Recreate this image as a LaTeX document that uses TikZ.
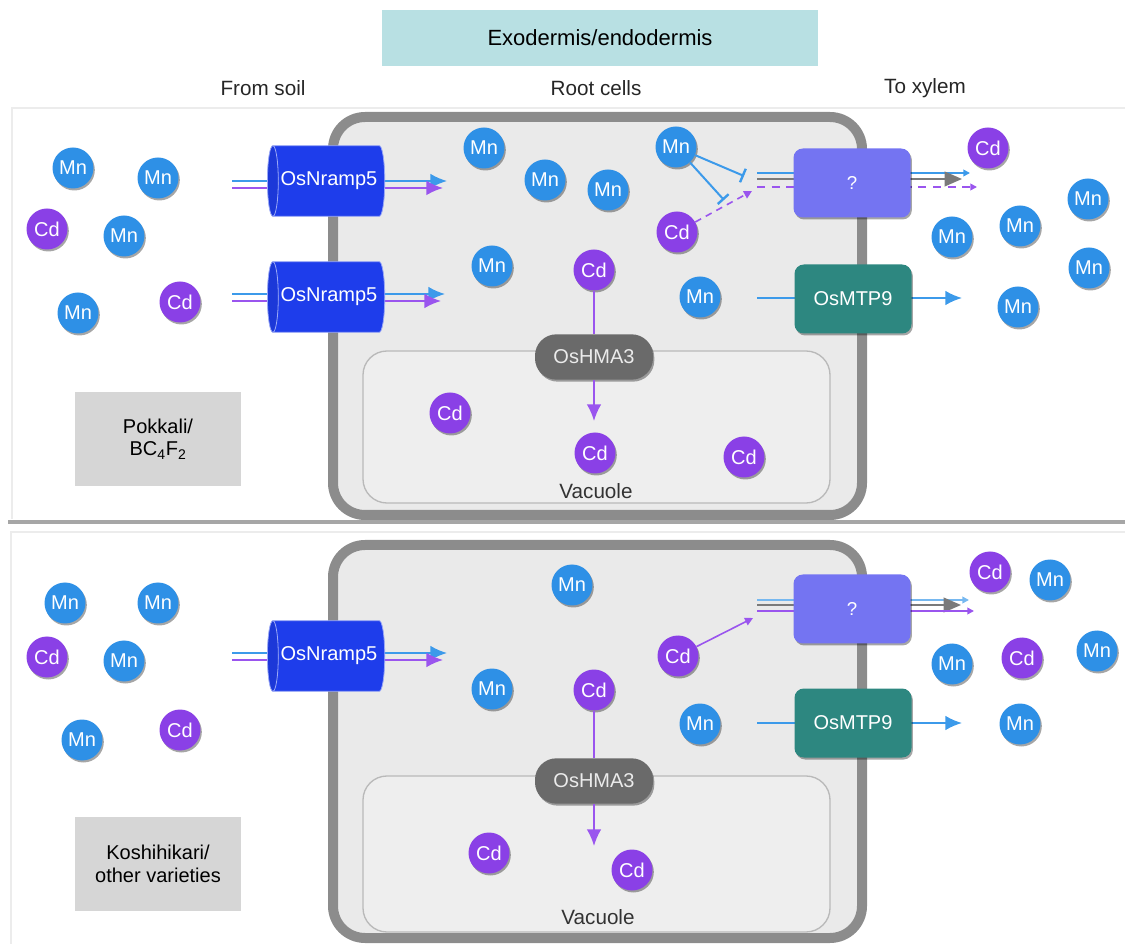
\documentclass[tikz,border=0pt]{standalone}
\usepackage{fontspec}
\setmainfont{Liberation Sans}
\usetikzlibrary{shapes.geometric,arrows.meta,shadows,positioning}

\definecolor{mnblue}{HTML}{2E90E6}
\definecolor{cdpurple}{HTML}{8A40E6}
\definecolor{nrampblue}{HTML}{1E3DEB}
\definecolor{qboxfill}{HTML}{7474F2}
\definecolor{mtpteal}{HTML}{2D8780}
\definecolor{hmagray}{HTML}{6A6A6A}
\definecolor{titlefill}{HTML}{B8E0E3}
\definecolor{labelfill}{HTML}{D6D6D6}
\definecolor{cellfill}{HTML}{EAEAEA}
\definecolor{wallgray}{HTML}{8C8C8C}
\definecolor{vacfill}{HTML}{EEEEEE}
\definecolor{mnline}{HTML}{3C9AEA}
\definecolor{cdline}{HTML}{9A55EE}
\definecolor{arrowgray}{HTML}{7A7A7A}

\tikzset{
  softshadow/.style={drop shadow={shadow xshift=1pt,shadow yshift=-1.5pt,opacity=0.35,fill=black}},
  ball/.style={circle,minimum size=30.75pt,inner sep=0pt,text=white,
    font=\fontsize{15}{15}\selectfont,softshadow},
  mnball/.style={ball,fill=mnblue},
  cdball/.style={ball,fill=cdpurple},
  channel/.style={cylinder,shape border rotate=180,aspect=0.6,
    minimum height=88pt,minimum width=53pt,inner sep=0pt,
    cylinder uses custom fill,cylinder body fill=nrampblue,
    cylinder end fill=nrampblue!92!black,draw=nrampblue!45!white,line width=0.6pt,
    text=white,font=\fontsize{15}{15}\selectfont},
  qbox/.style={rectangle,rounded corners=7pt,fill=qboxfill,minimum width=87.75pt,
    minimum height=51.75pt,text=white,font=\fontsize{14}{14}\selectfont,softshadow},
  mtpbox/.style={qbox,fill=mtpteal,font=\fontsize{15}{15}\selectfont},
  hmabox/.style={rectangle,rounded corners=16pt,fill=hmagray,minimum width=88.5pt,
    minimum height=34pt,text=white!92!black,font=\fontsize{15}{15}\selectfont,softshadow},
  varbox/.style={rectangle,fill=labelfill,minimum width=125pt,minimum height=71pt,
    align=center,font=\fontsize{15}{17}\selectfont},
  titlebar/.style={rectangle,fill=titlefill,minimum width=327pt,minimum height=42pt,
    font=\fontsize{16.5}{16.5}\selectfont},
  headlbl/.style={font=\fontsize{15.5}{15.5}\selectfont,text=black!85},
  vaclbl/.style={font=\fontsize{15.5}{15.5}\selectfont,text=black!80},
  cellwall/.style={draw=wallgray,line width=7.5pt,fill=cellfill,rounded corners=24pt,
    drop shadow={shadow xshift=2pt,shadow yshift=-2.5pt,opacity=0.5,fill=black}},
  vacuole/.style={draw=gray!55,line width=1pt,fill=vacfill,rounded corners=18pt},
  mnflow/.style={draw=mnline,line width=1.4pt},
  cdflow/.style={draw=cdline,line width=1.4pt},
  grayflow/.style={draw=arrowgray,line width=1.4pt},
  bighead/.style={-{Latex[length=12.5pt,width=11pt]}},
  smallhead/.style={-{Triangle[length=5pt,width=5pt]}},
  inhib/.style={draw=mnline,line width=1.5pt,-{Bar[width=11pt,line width=1.8pt]}}
}

\begin{document}
\begin{tikzpicture}[x=0.75pt,y=0.75pt,yscale=-1,xscale=1]
\useasboundingbox (0,0) rectangle (1125,944);

% panel frames
\draw[gray!15,line width=1pt] (1125,108) -- (12,108) -- (12,519);
\draw[gray!70,line width=2.5pt] (8,522) -- (1125,522);
\draw[gray!15,line width=1pt] (1125,532) -- (11,532) -- (11,944);

% header
\node[titlebar] (title) at (600,38) {Exodermis/endodermis};
\node[headlbl] (fromsoil) at (263,88) {From soil};
\node[headlbl] (rootcells) at (596,88) {Root cells};
\node[headlbl] (toxylem) at (925,88) {To xylem};

%%%%%%%%%%%%%%%% top panel
% cell and vacuole
\draw[cellwall] (333,117) rectangle (862,515);
\draw[vacuole] (363,351) rectangle (830,503);

% flows through OsNramp5 (drawn under the channels)
\coordinate (aIn1b) at (232,181);  \coordinate (aTip1b) at (447,181);
\coordinate (aIn1p) at (232,188);  \coordinate (aTip1p) at (443,188);
\coordinate (aIn2b) at (232,294);  \coordinate (aTip2b) at (445,294);
\coordinate (aIn2p) at (232,301);  \coordinate (aTip2p) at (441,301);
\draw[mnflow,bighead] (aIn1b) -- (aTip1b);
\draw[cdflow,bighead] (aIn1p) -- (aTip1p);
\draw[mnflow,bighead] (aIn2b) -- (aTip2b);
\draw[cdflow,bighead] (aIn2p) -- (aTip2p);
\node[channel] (aNramp1) at (329,181) {OsNramp5};
\node[channel] (aNramp2) at (329,297) {OsNramp5};

% flows through the unknown exporter
\coordinate (aQinB) at (757,173);  \coordinate (aQoutB) at (970,173);
\coordinate (aQinG) at (757,179);  \coordinate (aQoutG) at (962,179);
\coordinate (aQinP) at (757,187);  \coordinate (aQoutP) at (977,187);
\draw[mnflow,smallhead] (aQinB) -- (aQoutB);
\draw[grayflow,-{Triangle[length=13pt,width=11pt]}] (aQinG) -- (aQoutG);
\draw[cdflow,dashed,dash pattern=on 6pt off 5pt,smallhead] (aQinP) -- (aQoutP);
\node[qbox] (aQ) at (852,183) {?};

% OsMTP9
\coordinate (aMTPin) at (757,298);
\coordinate (aMTPtip) at (962,298);
\draw[mnflow,bighead] (aMTPin) -- (aMTPtip);
\node[mtpbox] (aMTP) at (853,299) {OsMTP9};

% OsHMA3
\node[hmabox] (aHMA) at (594,357) {OsHMA3};
\coordinate (aHMAtip) at (594,421);

% soil side
\node[mnball] (aS1) at (73,168) {Mn};
\node[mnball] (aS2) at (158,178) {Mn};
\node[cdball] (aS3) at (47,229) {Cd};
\node[mnball] (aS4) at (124,236) {Mn};
\node[mnball] (aS5) at (78,313) {Mn};
\node[cdball] (aS6) at (180,302) {Cd};
% inside the cell
\node[mnball] (aC1) at (484,148) {Mn};
\node[mnball] (aC2) at (545,180) {Mn};
\node[mnball] (aC3) at (608,190) {Mn};
\node[mnball] (aC4) at (676,147) {Mn};
\node[cdball] (aC5) at (677,232) {Cd};
\node[mnball] (aC6) at (492,266) {Mn};
\node[cdball] (aC7) at (594,270) {Cd};
\node[mnball] (aC8) at (700,297) {Mn};
% xylem side
\node[cdball] (aX1) at (988,148) {Cd};
\node[mnball] (aX2) at (1088,199) {Mn};
\node[mnball] (aX3) at (1020,226) {Mn};
\node[mnball] (aX4) at (952,237) {Mn};
\node[mnball] (aX5) at (1089,268) {Mn};
\node[mnball] (aX6) at (1018,307) {Mn};
% vacuole
\node[cdball] (aV1) at (450,413) {Cd};
\node[cdball] (aV2) at (595,453) {Cd};
\node[cdball] (aV3) at (744,457) {Cd};
\node[vaclbl] (aVac) at (596,491) {Vacuole};

% Mn blocks the Cd route
\coordinate (aBar1) at (744,176);
\coordinate (aBar2) at (724,200);
\coordinate (aCdTip) at (752,191);
\draw[inhib] (aC4) -- (aBar1);
\draw[inhib] (aC4) -- (aBar2);
\draw[cdflow,line width=1.2pt,dashed,dash pattern=on 5pt off 4pt,-{Triangle[length=6pt,width=6pt]}] (aC5) -- (aCdTip);

% sequestration into the vacuole
\draw[cdflow] (aC7) -- (aHMA);
\draw[cdflow,bighead] (aHMA) -- (aHMAtip);

\node[varbox] (aVar) at (158,439) {Pokkali/\\BC\textsubscript{4}F\textsubscript{2}};

%%%%%%%%%%%%%%%% bottom panel
\draw[cellwall] (333,545) rectangle (862,938);
\draw[vacuole] (363,776) rectangle (830,932);

\coordinate (bIn1b) at (232,653);  \coordinate (bTip1b) at (447,653);
\coordinate (bIn1p) at (232,660);  \coordinate (bTip1p) at (443,660);
\draw[mnflow,bighead] (bIn1b) -- (bTip1b);
\draw[cdflow,bighead] (bIn1p) -- (bTip1p);
\node[channel] (bNramp) at (329,656) {OsNramp5};

\coordinate (bQinB) at (757,600);  \coordinate (bQoutB) at (969,600);
\coordinate (bQinG) at (757,605);  \coordinate (bQoutG) at (961,605);
\coordinate (bQinP) at (757,611);  \coordinate (bQoutP) at (974,611);
\draw[mnflow,draw=mnline!70!white,smallhead] (bQinB) -- (bQoutB);
\draw[grayflow,-{Triangle[length=13pt,width=11pt]}] (bQinG) -- (bQoutG);
\draw[cdflow,smallhead] (bQinP) -- (bQoutP);
\node[qbox] (bQ) at (852,609) {?};

\coordinate (bMTPin) at (757,723);
\coordinate (bMTPtip) at (962,723);
\draw[mnflow,bighead] (bMTPin) -- (bMTPtip);
\node[mtpbox] (bMTP) at (853,723) {OsMTP9};

\node[hmabox] (bHMA) at (594,781) {OsHMA3};
\coordinate (bHMAtip) at (594,846);

% soil side
\node[mnball] (bS1) at (65,603) {Mn};
\node[mnball] (bS2) at (158,603) {Mn};
\node[cdball] (bS3) at (47,657) {Cd};
\node[mnball] (bS4) at (124,661) {Mn};
\node[mnball] (bS5) at (82,740) {Mn};
\node[cdball] (bS6) at (180,730) {Cd};
% inside the cell
\node[mnball] (bC1) at (572,585) {Mn};
\node[cdball] (bC2) at (678,656) {Cd};
\node[mnball] (bC3) at (492,689) {Mn};
\node[cdball] (bC4) at (594,690) {Cd};
\node[mnball] (bC5) at (700,724) {Mn};
% xylem side
\node[cdball] (bX1) at (990,572) {Cd};
\node[mnball] (bX2) at (1050,580) {Mn};
\node[mnball] (bX3) at (952,664) {Mn};
\node[cdball] (bX4) at (1022,658) {Cd};
\node[mnball] (bX5) at (1097,651) {Mn};
\node[mnball] (bX6) at (1020,724) {Mn};
% vacuole
\node[cdball] (bV1) at (489,853) {Cd};
\node[cdball] (bV2) at (632,870) {Cd};
\node[vaclbl] (bVac) at (598,917) {Vacuole};

\coordinate (bCdTip) at (753,618);
\draw[cdflow,line width=1.2pt,-{Triangle[length=6pt,width=6pt]}] (bC2) -- (bCdTip);

\draw[cdflow] (bC4) -- (bHMA);
\draw[cdflow,bighead] (bHMA) -- (bHMAtip);

\node[varbox] (bVar) at (158,864) {Koshihikari/\\other varieties};
\end{tikzpicture}
\end{document}
